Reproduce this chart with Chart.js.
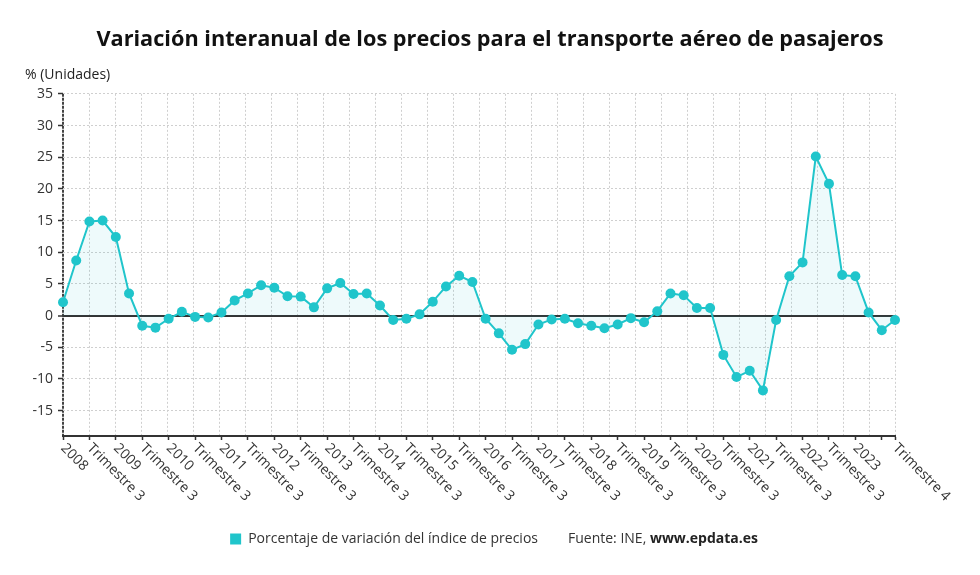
<!DOCTYPE html>
<html>
<head>
<meta charset="utf-8">
<script src="https://cdn.jsdelivr.net/npm/chart.js@4.4.0/dist/chart.umd.min.js"></script>
<style>
html,body{margin:0;padding:0;background:#ffffff;}
#wrap{width:980px;height:575px;}
</style>
</head>
<body>
<div id="wrap"><canvas id="c" width="980" height="575"></canvas></div>
<script>
const categories = [
  "2008","Trimestre 2","Trimestre 3","Trimestre 4",
  "2009","Trimestre 2","Trimestre 3","Trimestre 4",
  "2010","Trimestre 2","Trimestre 3","Trimestre 4",
  "2011","Trimestre 2","Trimestre 3","Trimestre 4",
  "2012","Trimestre 2","Trimestre 3","Trimestre 4",
  "2013","Trimestre 2","Trimestre 3","Trimestre 4",
  "2014","Trimestre 2","Trimestre 3","Trimestre 4",
  "2015","Trimestre 2","Trimestre 3","Trimestre 4",
  "2016","Trimestre 2","Trimestre 3","Trimestre 4",
  "2017","Trimestre 2","Trimestre 3","Trimestre 4",
  "2018","Trimestre 2","Trimestre 3","Trimestre 4",
  "2019","Trimestre 2","Trimestre 3","Trimestre 4",
  "2020","Trimestre 2","Trimestre 3","Trimestre 4",
  "2021","Trimestre 2","Trimestre 3","Trimestre 4",
  "2022","Trimestre 2","Trimestre 3","Trimestre 4",
  "2023","Trimestre 2","Trimestre 3","Trimestre 4"
];

const variationValues = [
  2.1, 8.7, 14.85, 15.0,
  12.4, 3.5, -1.6, -1.9,
  -0.5, 0.6, -0.2, -0.3,
  0.5, 2.4, 3.5, 4.8,
  4.4, 3.05, 3.0, 1.3,
  4.3, 5.15, 3.4, 3.5,
  1.6, -0.7, -0.5, 0.2,
  2.2, 4.6, 6.3, 5.3,
  -0.5, -2.8, -5.4, -4.5,
  -1.4, -0.6, -0.5, -1.2,
  -1.6, -2.0, -1.4, -0.4,
  -1.05, 0.7, 3.5, 3.2,
  1.2, 1.2, -6.2, -9.7,
  -8.7, -11.8, -0.7, 6.2,
  8.4, 25.1, 20.8, 6.4,
  6.2, 0.5, -2.3, -0.7
];

// tick marks on the category axis, and the subset of them that carry a label
const xTickIndices = [0,2,4,6,8,10,12,14,16,18,20,22,24,26,28,30,32,34,36,38,40,42,44,46,48,50,52,54,56,58,60,62,63];
const xLabelledIndices = [0,2,4,6,8,10,12,14,16,18,20,22,24,26,28,30,32,34,36,38,40,42,44,46,48,50,52,54,56,58,60,63];
// vertical dotted grid: 32 equal divisions of the axis
const xGridDivisions = 32;
const yTickValues = [-15,-10,-5,0,5,10,15,20,25,30,35];

const seriesLabel = "Porcentaje de variación del índice de precios";
const sourcePrefix = "Fuente: INE, ";
const sourceBold = "www.epdata.es";
const chartTitle = "Variación interanual de los precios para el transporte aéreo de pasajeros";
const unitLabel = "% (Unidades)";

const LINE = '#20c5cb';
const FONT = "'Open Sans', 'Noto Sans', sans-serif";
const LEGEND_SIZE = 14;

class SlantCategoryScale extends Chart.CategoryScale {
  _getXAxisLabelAlignment() { return 'left'; }
}
SlantCategoryScale.id = 'slantCategory';
SlantCategoryScale.defaults = Chart.CategoryScale.defaults;
Chart.register(SlantCategoryScale);

const sourcePlugin = {
  id: 'sourcePlugin',
  afterDraw(chart) {
    const lg = chart.legend;
    if (!lg || !lg.legendHitBoxes || lg.legendHitBoxes.length < 2) return;
    const hb = lg.legendHitBoxes[1];
    const opts = lg.options.labels;
    const ctx = chart.ctx;
    ctx.save();
    ctx.textBaseline = 'middle';
    ctx.textAlign = 'left';
    ctx.fillStyle = '#333333';
    ctx.font = LEGEND_SIZE + "px " + FONT;
    const x0 = hb.left + opts.boxWidth + LEGEND_SIZE / 2;
    const y0 = hb.top + hb.height / 2;
    ctx.fillText(sourcePrefix, x0, y0);
    const w = ctx.measureText(sourcePrefix).width;
    ctx.font = "bold " + LEGEND_SIZE + "px " + FONT;
    ctx.fillStyle = '#222222';
    ctx.fillText(sourceBold, x0 + w, y0);
    ctx.restore();
  }
};

new Chart(document.getElementById('c'), {
  type: 'line',
  data: {
    labels: categories,
    datasets: [{
      label: seriesLabel,
      data: variationValues,
      borderColor: LINE,
      backgroundColor: 'rgba(32,197,203,0.08)',
      pointBackgroundColor: LINE,
      pointBorderColor: LINE,
      pointBorderWidth: 0,
      pointRadius: 5,
      borderWidth: 2,
      tension: 0,
      fill: 'origin',
      xAxisID: 'x',
      yAxisID: 'y'
    }]
  },
  options: {
    responsive: false,
    animation: false,
    devicePixelRatio: 1,
    layout: { padding: { left: 25, right: 25, top: 0, bottom: 19 } },
    plugins: {
      title: {
        display: true,
        text: chartTitle,
        color: '#111111',
        font: { family: FONT, size: 21.7, weight: 'bold' },
        padding: { top: 27, bottom: 10 }
      },
      subtitle: {
        display: true,
        text: unitLabel,
        align: 'start',
        color: '#222222',
        font: { family: FONT, size: 14, weight: 'normal' },
        padding: { top: 4, bottom: 10 }
      },
      legend: {
        display: true,
        position: 'bottom',
        labels: {
          boxWidth: 11,
          boxHeight: 11,
          padding: 12,
          color: '#333333',
          font: { family: FONT, size: LEGEND_SIZE },
          generateLabels: () => [
            { text: seriesLabel, fillStyle: LINE, strokeStyle: LINE, lineWidth: 0, hidden: false, datasetIndex: 0, fontColor: '#333333' },
            { text: sourcePrefix + sourceBold, fillStyle: 'rgba(0,0,0,0)', strokeStyle: 'rgba(0,0,0,0)', lineWidth: 0, hidden: false, datasetIndex: 1, fontColor: 'rgba(0,0,0,0)' }
          ]
        },
        onClick: () => {}
      },
      tooltip: { enabled: false }
    },
    scales: {
      x: {
        type: 'slantCategory',
        position: 'bottom',
        weight: 1,
        afterBuildTicks: (scale) => { scale.ticks = xTickIndices.map(v => ({ value: v })); },
        afterFit: (scale) => { scale.height = 84; scale.paddingRight = 85; scale.paddingLeft = 0; },
        ticks: {
          autoSkip: false,
          minRotation: -45,
          maxRotation: -45,
          padding: 0,
          color: '#333333',
          font: { family: FONT, size: 14 },
          callback: function(value) {
            return xLabelledIndices.includes(value) ? this.getLabelForValue(value) : '';
          }
        },
        grid: {
          drawOnChartArea: false,
          drawTicks: true,
          color: '#333333',
          tickColor: '#333333',
          tickLength: 4,
          tickWidth: 1.5
        },
        border: { display: true, color: '#333333', width: 2 }
      },
      xGrid: {
        type: 'linear',
        position: 'bottom',
        weight: 0,
        min: 0,
        max: xGridDivisions,
        afterBuildTicks: (scale) => {
          const t = [];
          for (let k = 0; k <= xGridDivisions; k++) t.push({ value: k });
          scale.ticks = t;
        },
        afterFit: (scale) => { scale.height = 0; scale.paddingRight = 85; scale.paddingLeft = 0; },
        ticks: { display: false },
        grid: {
          drawTicks: false,
          color: (ctx) => ctx.index === 0 ? '#444444' : '#cfcfcf',
          lineWidth: (ctx) => ctx.index === 0 ? 2 : 1
        },
        border: { display: false, dash: (ctx) => (ctx.index === 0 ? [3, 1] : [2, 2]) }
      },
      y: {
        min: -19,
        max: 35,
        afterBuildTicks: (scale) => { scale.ticks = yTickValues.map(v => ({ value: v })); },
        afterFit: (scale) => { scale.width = 38; },
        ticks: {
          padding: 5,
          color: '#333333',
          font: { family: FONT, size: 14 }
        },
        grid: {
          color: (ctx) => (ctx.tick && ctx.tick.value === 0) ? '#333333' : '#cfcfcf',
          lineWidth: (ctx) => (ctx.tick && ctx.tick.value === 0) ? 2 : 1,
          tickColor: '#333333',
          tickLength: 5,
          tickWidth: 1.5
        },
        border: { display: false, dash: (ctx) => (ctx.tick && ctx.tick.value === 0) ? [] : [2, 2] }
      }
    }
  },
  plugins: [sourcePlugin]
});
</script>
</body>
</html>
